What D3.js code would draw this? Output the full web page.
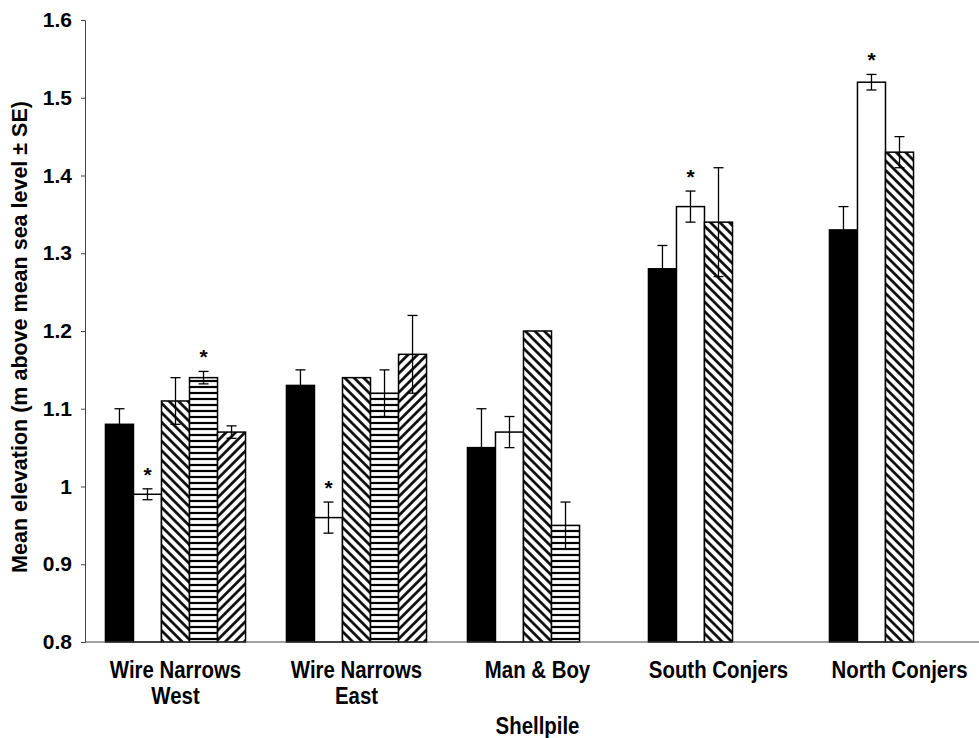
<!DOCTYPE html>
<html>
<head>
<meta charset="utf-8">
<script src="https://cdn.jsdelivr.net/npm/d3@7"></script>
<style>
  body { margin: 0; background: #fff; }
  text { font-family: "Liberation Sans", Arial, sans-serif; font-weight: bold; fill: #000; }
</style>
</head>
<body>
<svg id="chart" width="979" height="738"></svg>
<script>
// shellpile sites (category labels, split into lines)
const sites = ["Wire Narrows West", "Wire Narrows East", "Man & Boy", "South Conjers", "North Conjers"];
const siteLines = [["Wire Narrows", "West"], ["Wire Narrows", "East"], ["Man & Boy"], ["South Conjers"], ["North Conjers"]];

// five series per site (null = no bar)
const seriesKeys = ["solid", "open", "backslash", "horizontal", "slash"];
const solidVals      = [1.08, 1.13, 1.05, 1.28, 1.33];
const solidSE        = [0.02, 0.02, 0.05, 0.03, 0.03];
const openVals       = [0.99, 0.96, 1.07, 1.36, 1.52];
const openSE         = [0.007, 0.02, 0.02, 0.02, 0.01];
const backslashVals  = [1.11, 1.14, 1.20, 1.34, 1.43];
const backslashSE    = [0.03, 0, 0, 0.07, 0.02];
const horizontalVals = [1.14, 1.12, 0.95, null, null];
const horizontalSE   = [0.008, 0.03, 0.03, null, null];
const slashVals      = [1.07, 1.17, null, null, null];
const slashSE        = [0.008, 0.05, null, null, null];

// significance asterisks
const openStars       = [true, true, false, true, true];
const horizontalStars = [true, false, false, false, false];

const yTicks = [0.8, 0.9, 1, 1.1, 1.2, 1.3, 1.4, 1.5, 1.6];
const yTitle = "Mean elevation (m above mean sea level \u00b1 SE)";
const xTitle = "Shellpile";

const seriesTable = [
  {key: "solid",      vals: solidVals,      se: solidSE,      stars: null,            fill: "#000"},
  {key: "open",       vals: openVals,       se: openSE,       stars: openStars,       fill: "#fff"},
  {key: "backslash",  vals: backslashVals,  se: backslashSE,  stars: null,            fill: "url(#pBack)"},
  {key: "horizontal", vals: horizontalVals, se: horizontalSE, stars: horizontalStars, fill: "url(#pHoriz)"},
  {key: "slash",      vals: slashVals,      se: slashSE,      stars: null,            fill: "url(#pSlash)"},
];

const svg = d3.select("#chart");
const marginLeft = 85;
const axisY = 642;
const marginTop = 20;
const squeeze = 0.85; // labels in the original look condensed

const y = d3.scaleLinear().domain([0.8, 1.6]).range([axisY, marginTop]);
const x = d3.scaleBand().domain(sites).range([marginLeft, 990])
    .paddingInner(0.226).paddingOuter(0.113);
const xs = d3.scaleBand().domain(seriesKeys).range([0, x.bandwidth()]);

// fill patterns
const defs = svg.append("defs");
function stripes(id, angle, size, stroke) {
  const p = defs.append("pattern")
      .attr("id", id)
      .attr("patternUnits", "userSpaceOnUse")
      .attr("width", size).attr("height", size)
      .attr("patternTransform", `rotate(${angle})`);
  p.append("rect").attr("width", size).attr("height", size).attr("fill", "#fff");
  p.append("line")
      .attr("x1", 0).attr("x2", size)
      .attr("y1", size / 2).attr("y2", size / 2)
      .attr("stroke", "#000").attr("stroke-width", stroke);
}
stripes("pBack", 45, 6.7, 2.6);
stripes("pSlash", -45, 6.7, 2.6);
stripes("pHoriz", 0, 6, 2.2);

svg.append("rect").attr("width", 979).attr("height", 738).attr("fill", "#fff");

// bars
const barData = seriesTable.flatMap(s => sites.map((site, i) => ({
  site, key: s.key, fill: s.fill, v: s.vals[i], se: s.se[i], star: s.stars ? s.stars[i] : false
}))).filter(d => d.v != null);

svg.append("g").selectAll("rect")
  .data(barData)
  .join("rect")
    .attr("x", d => x(d.site) + xs(d.key))
    .attr("y", d => y(d.v))
    .attr("width", xs.bandwidth())
    .attr("height", d => y(0.8) - y(d.v))
    .attr("fill", d => d.fill)
    .attr("stroke", "#000")
    .attr("stroke-width", 1.5);

// error bars
const eb = svg.append("g").attr("stroke", "#000").attr("stroke-width", 1.3);
barData.filter(d => d.se > 0).forEach(d => {
  const cx = x(d.site) + xs(d.key) + xs.bandwidth() / 2;
  const y1 = y(d.v + d.se), y2 = y(d.v - d.se);
  eb.append("line").attr("x1", cx).attr("x2", cx).attr("y1", y1).attr("y2", y2);
  eb.append("line").attr("x1", cx - 5).attr("x2", cx + 5).attr("y1", y1).attr("y2", y1);
  eb.append("line").attr("x1", cx - 5).attr("x2", cx + 5).attr("y1", y2).attr("y2", y2);
});

// asterisks
svg.append("g").selectAll("text")
  .data(barData.filter(d => d.star))
  .join("text")
    .attr("x", d => x(d.site) + xs(d.key) + xs.bandwidth() / 2)
    .attr("y", d => y(d.v + d.se) - 7)
    .attr("text-anchor", "middle")
    .attr("font-size", 21)
    .text("*");

// y axis
const yAxis = svg.append("g")
    .attr("transform", `translate(${marginLeft},0)`)
    .call(d3.axisLeft(y).tickValues(yTicks).tickFormat(d3.format("~g")).tickSizeOuter(0).tickSize(4).tickPadding(9));
yAxis.select(".domain").attr("stroke", "#444");
yAxis.selectAll(".tick line").attr("stroke", "#444");
yAxis.selectAll(".tick text")
    .attr("font-size", 21)
    .attr("font-family", "Liberation Sans, Arial, sans-serif")
    .attr("font-weight", "bold")
    .attr("fill", "#000");

// x axis line
svg.append("line")
    .attr("x1", marginLeft).attr("x2", 979)
    .attr("y1", axisY).attr("y2", axisY)
    .attr("stroke", "#444").attr("stroke-width", 1.2);

// category labels
svg.append("g").selectAll("text")
  .data(sites)
  .join("text")
    .attr("transform", d => `translate(${x(d) + x.bandwidth() / 2},678) scale(${squeeze},1)`)
    .attr("text-anchor", "middle")
    .attr("font-size", 24)
    .selectAll("tspan")
    .data((d, i) => siteLines[i])
    .join("tspan")
      .attr("x", 0)
      .attr("dy", (d, i) => i === 0 ? 0 : 26)
      .text(d => d);

// axis titles
svg.append("text")
    .attr("transform", `translate(${x(sites[2]) + x.bandwidth() / 2},734) scale(${squeeze},1)`)
    .attr("text-anchor", "middle")
    .attr("font-size", 24)
    .text(xTitle);

svg.append("text")
    .attr("transform", `translate(27,${(marginTop + axisY) / 2 + 6}) rotate(-90)`)
    .attr("text-anchor", "middle")
    .attr("font-size", 21.5)
    .text(yTitle);
</script>
</body>
</html>
